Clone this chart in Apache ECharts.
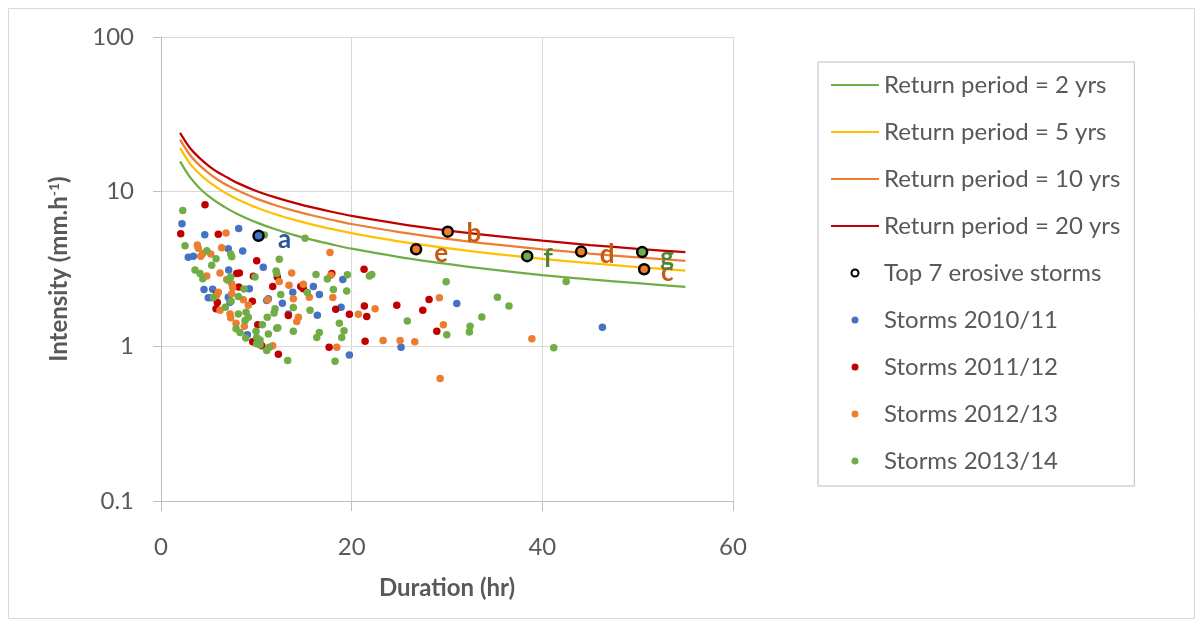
<!DOCTYPE html>
<html>
<head>
<meta charset="utf-8">
<script src="https://cdn.jsdelivr.net/npm/echarts@6/dist/echarts.min.js"></script>
<style>
  html, body { margin: 0; padding: 0; background: #fff; }
  #main { width: 1203px; height: 624px; }
</style>
</head>
<body>
<div id="main"></div>
<script>
// durations (hr) for the return-period curves
const rpDurations = [2, 3, 4, 5, 6, 7, 8, 10, 12, 14, 16, 18, 20, 25, 30, 35, 40, 45, 50, 55];
const rp2 = [15.7, 12.5, 10.6, 9.36, 8.44, 7.74, 7.18, 6.33, 5.71, 5.24, 4.86, 4.55, 4.28, 3.78, 3.41, 3.12, 2.89, 2.71, 2.56, 2.42];
const rp5 = [19.2, 15.3, 13.1, 11.6, 10.5, 9.62, 8.94, 7.90, 7.14, 6.57, 6.10, 5.72, 5.40, 4.77, 4.31, 3.96, 3.68, 3.45, 3.25, 3.09];
const rp10 = [21.7, 17.4, 14.9, 13.2, 11.9, 10.96, 10.2, 9.02, 8.17, 7.51, 6.99, 6.56, 6.18, 5.48, 4.96, 4.56, 4.24, 3.98, 3.76, 3.57];
const rp20 = [24.0, 19.3, 16.6, 14.7, 13.3, 12.3, 11.4, 10.1, 9.19, 8.46, 7.88, 7.39, 6.98, 6.20, 5.62, 5.18, 4.82, 4.52, 4.27, 4.06];

// [duration, intensity]
const storms2010 = [[2.2,6.21],[4.59,5.27],[8.15,5.77],[2.86,3.76],[3.39,3.83],[7.06,4.27],[8.57,4.13],[10.73,3.24],[7.1,3.11],[4.51,2.33],[5.42,2.34],[4.96,2.06],[9.27,2.36],[5.32,2.06],[7.06,2.08],[7.24,1.93],[11.09,1.98],[11.26,2.03],[9.06,1.19],[19.07,2.70],[15.98,2.44],[16.61,2.16],[13.82,2.24],[12.73,1.90],[13.36,1.62],[16.4,1.59],[18.89,1.79],[19.76,0.88],[31.03,1.89],[25.18,0.985],[46.3,1.33]];
const storms2011 = [[4.62,8.22],[2.07,5.35],[6.01,5.30],[10.04,3.57],[7.94,2.96],[8.22,2.98],[9.69,2.84],[8.15,2.42],[11.72,2.44],[5.84,2.19],[5.91,1.92],[5.77,1.75],[9.58,1.96],[10.15,1.38],[9.62,1.07],[10.57,1.01],[12.31,0.89],[12.2,2.81],[17.91,2.96],[21.3,3.15],[14.66,2.44],[14.93,2.36],[13.36,1.58],[18.33,1.74],[19.76,1.61],[21.33,1.82],[21.58,1.56],[21.41,1.08],[17.63,0.985],[24.73,1.84],[28.12,2.01],[27.46,1.71],[28.93,1.25]];
const storms2012 = [[6.82,5.41],[3.81,4.52],[3.91,4.30],[4.17,3.83],[4.38,3.99],[5.22,3.95],[6.37,4.34],[4.8,2.85],[6.19,2.98],[6.89,2.70],[6.01,2.24],[5.84,2.14],[7.42,2.54],[7.52,2.40],[7.42,2.19],[6.19,1.71],[8.64,2.00],[9.16,1.84],[7.24,1.62],[7.31,1.53],[7.87,1.41],[8.74,1.35],[11.2,2.00],[11.72,1.01],[17.73,4.05],[12.41,2.63],[13.71,2.98],[17.81,2.88],[13.43,2.48],[14.93,2.52],[15.56,2.08],[18.02,2.07],[13.88,2.03],[14.41,1.54],[14.24,1.45],[22.46,1.75],[20.7,1.61],[23.3,1.09],[18.44,0.985],[29.2,2.06],[29.62,1.38],[25.08,1.09],[26.62,1.07],[29.28,0.62],[38.9,1.12]];
const storms2013 = [[2.28,7.55],[10.84,5.25],[2.52,4.47],[4.8,4.15],[5.77,3.68],[7.31,3.95],[7.42,3.79],[5.32,3.35],[3.57,3.11],[4.09,2.96],[4.38,2.74],[7.31,2.81],[7.06,2.67],[9.86,2.81],[8.71,2.35],[5.49,2.07],[8.11,2.10],[6.75,1.79],[7.35,1.96],[11.96,1.75],[8.11,1.62],[8.92,1.66],[9.16,1.54],[8.81,1.47],[7.87,1.30],[8.29,1.23],[10.63,1.38],[11.15,1.54],[12.25,1.32],[11.26,1.20],[9.97,1.25],[10.04,1.14],[10.39,1.10],[10.04,1.04],[10.39,1.02],[11.09,0.94],[11.36,0.985],[8.89,1.13],[15.11,4.99],[12.41,3.66],[12.07,3.07],[12.14,2.96],[16.26,2.91],[17.45,2.72],[19.55,2.90],[21.86,2.85],[22.11,2.91],[15.35,2.23],[18.08,2.33],[19.48,2.28],[12.56,2.16],[11.86,1.64],[13.88,1.78],[15.63,1.71],[18.71,1.41],[12.14,1.31],[13.88,1.25],[16.61,1.23],[16.34,1.14],[19.2,1.26],[18.96,1.14],[13.29,0.81],[18.26,0.80],[29.91,2.62],[25.84,1.46],[29.98,1.19],[32.42,1.35],[32.35,1.24],[33.65,1.55],[35.29,2.08],[36.5,1.82],[41.2,0.98],[42.5,2.63]];

// top 7 erosive storms
const top7 = [[10.23,5.19],[30.08,5.51],[50.68,3.15],[44.07,4.10],[26.76,4.24],[38.41,3.83],[50.47,4.07]];
const top7Labels = ['a', 'b', 'c', 'd', 'e', 'f', 'g'];
const top7Season = ['2010/11', '2012/13', '2012/13', '2012/13', '2012/13', '2013/14', '2013/14'];

const xTicks = [0, 20, 40, 60];
const yTicks = [0.1, 1, 10, 100];

const FONT = 'Lato, "Open Sans", sans-serif';
const TXT = '#595959';
const seasonFill = { '2010/11': '#4472C4', '2011/12': '#C00000', '2012/13': '#ED7D31', '2013/14': '#70AD47' };
const seasonLabel = { '2010/11': '#2F5597', '2012/13': '#C55A11', '2013/14': '#548235' };
const labelOffset = { a: [26, 4], b: [26, 2], c: [23, 3], d: [26, 3], e: [25, 4], f: [21, 2], g: [25, 6] };

const lineNames = ['Return period = 2 yrs', 'Return period = 5 yrs', 'Return period = 10 yrs', 'Return period = 20 yrs'];
const dotNames = ['Top 7 erosive storms', 'Storms 2010/11', 'Storms 2011/12', 'Storms 2012/13', 'Storms 2013/14'];

const pair = (vals) => rpDurations.map((d, i) => [d, vals[i]]);

const lineSeries = (name, vals, color) => ({
  name, type: 'line', data: pair(vals), smooth: 0.3, showSymbol: false, symbol: 'none',
  lineStyle: { color, width: 2.25 }, itemStyle: { color }, z: 2, silent: true,
});
const dotSeries = (name, data, color) => ({
  name, type: 'scatter', data, symbolSize: 7.5,
  itemStyle: { color, opacity: 1 }, z: 3, silent: true,
});

const chart = echarts.init(document.getElementById('main'));
chart.setOption({
  animation: false,
  textStyle: { fontFamily: FONT },
  graphic: [{
    type: 'rect', shape: { x: 8.5, y: 8.5, width: 1186, height: 610 },
    style: { fill: 'none', stroke: '#D9D9D9', lineWidth: 1 }, silent: true,
  }],
  grid: { left: 161, right: 470, top: 37, bottom: 123 },
  legend: {
    orient: 'vertical', left: 818, top: 62,
    padding: [11, 14, 13, 12],
    borderColor: '#BFBFBF', borderWidth: 1,
    itemWidth: 48, itemHeight: 7, itemGap: 23,
    textStyle: { fontFamily: FONT, fontSize: 24, color: TXT, lineHeight: 24 },
    data: lineNames.map((name) => ({ name, itemStyle: { opacity: 0 } })).concat(dotNames),
  },
  xAxis: {
    type: 'value', min: xTicks[0], max: xTicks[xTicks.length - 1], interval: 20,
    name: 'Duration (hr)', nameLocation: 'middle', nameGap: 75,
    nameTextStyle: { fontFamily: FONT, fontSize: 24, fontWeight: 'bold', color: TXT },
    axisLine: { lineStyle: { color: '#BFBFBF' } },
    axisTick: { show: true, length: 10, lineStyle: { color: '#BFBFBF' } },
    axisLabel: { fontSize: 24, color: TXT, margin: 34, fontFamily: FONT },
    splitLine: { show: true, lineStyle: { color: '#D9D9D9' } },
  },
  yAxis: {
    type: 'log', logBase: 10, min: yTicks[0], max: yTicks[yTicks.length - 1],
    name: 'Intensity (mm.h{sup|-1})', nameLocation: 'middle', nameGap: 90, nameRotate: 90,
    nameTextStyle: {
      fontFamily: FONT, fontSize: 24, fontWeight: 'bold', color: TXT,
      rich: { sup: { fontFamily: FONT, fontSize: 14, fontWeight: 'bold', color: TXT, verticalAlign: 'top', padding: [0, 0, 10, 0] } },
    },
    axisLine: { show: true, lineStyle: { color: '#BFBFBF' } },
    axisTick: { show: true, length: 8, lineStyle: { color: '#BFBFBF' } },
    axisLabel: { fontSize: 24, color: TXT, margin: 27, fontFamily: FONT, formatter: (v) => String(+v.toPrecision(3)) },
    splitLine: { show: true, lineStyle: { color: '#D9D9D9' } },
  },
  series: [
    lineSeries(lineNames[0], rp2, '#70AD47'),
    lineSeries(lineNames[1], rp5, '#FFC000'),
    lineSeries(lineNames[2], rp10, '#ED7D31'),
    lineSeries(lineNames[3], rp20, '#C00000'),
    dotSeries(dotNames[1], storms2010, seasonFill['2010/11']),
    dotSeries(dotNames[2], storms2011, seasonFill['2011/12']),
    dotSeries(dotNames[3], storms2012, seasonFill['2012/13']),
    dotSeries(dotNames[4], storms2013, seasonFill['2013/14']),
    {
      name: dotNames[0], type: 'scatter', symbolSize: 10, z: 5, silent: true,
      itemStyle: { color: '#fff', borderColor: '#000', borderWidth: 2.5, opacity: 1 },
      data: top7.map((p, i) => ({
        value: p,
        itemStyle: { color: seasonFill[top7Season[i]] },
        label: {
          show: true, formatter: top7Labels[i], position: 'inside',
          offset: labelOffset[top7Labels[i]],
          fontFamily: FONT, fontSize: 26, fontWeight: 'bold',
          color: seasonLabel[top7Season[i]],
        },
      })),
    },
  ],
});
</script>
</body>
</html>
